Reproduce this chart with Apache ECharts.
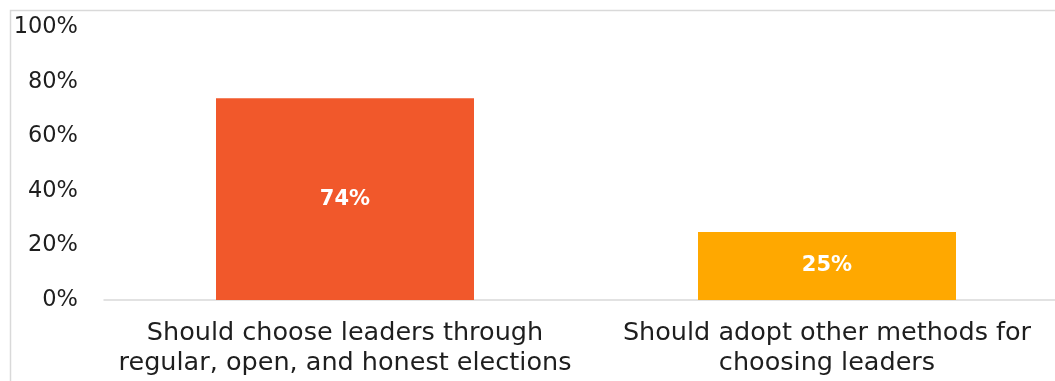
<!DOCTYPE html>
<html><head><meta charset="utf-8">
<script src="https://cdn.jsdelivr.net/npm/echarts@6/dist/echarts.min.js"></script>
<style>html,body{margin:0;padding:0;background:#fff;overflow:hidden}#c{width:1055px;height:381px}</style>
</head><body><div id="c"></div>
<script>
const categories = ["Should choose leaders through\nregular, open, and honest elections", "Should adopt other methods for\nchoosing leaders"];
const values = [74, 25];
const barColors = ["#F1582B", "#FFA800"];
const yTicks = [0, 20, 40, 60, 80, 100];

const chart = echarts.init(document.getElementById('c'), null, {renderer: 'canvas'});
const font = "'DejaVu Sans', sans-serif";
chart.setOption({
  animation: false,
  graphic: [{type: 'rect', shape: {x: 10.5, y: 10.5, width: 1100, height: 420}, style: {fill: 'none', stroke: '#d9d9d9', lineWidth: 1.5}}],
  grid: {left: 104, top: 27.5, width: 964, bottom: 81, containLabel: false, outerBoundsMode: 'none'},
  xAxis: {
    type: 'category', data: categories,
    axisLine: {lineStyle: {color: '#d9d9d9', width: 1.5}},
    axisTick: {show: false},
    axisLabel: {color: '#1e1e1e', fontSize: 25.5, fontFamily: font, lineHeight: 30, margin: 18, interval: 0}
  },
  yAxis: {
    type: 'value', min: 0, max: 100, interval: 20,
    axisLine: {show: false}, axisTick: {show: false}, splitLine: {show: false},
    axisLabel: {color: '#1e1e1e', fontSize: 22.5, fontFamily: font, margin: 26, formatter: v => yTicks.includes(v) ? v + '%' : ''}
  },
  series: [{
    type: 'bar', barWidth: 258,
    data: values.map((v, i) => ({value: v, itemStyle: {color: barColors[i]}})),
    label: {show: true, position: 'inside', color: '#fff', fontWeight: 'bold', fontSize: 21, fontFamily: font, formatter: p => p.value + '%'}
  }]
});
</script></body></html>
